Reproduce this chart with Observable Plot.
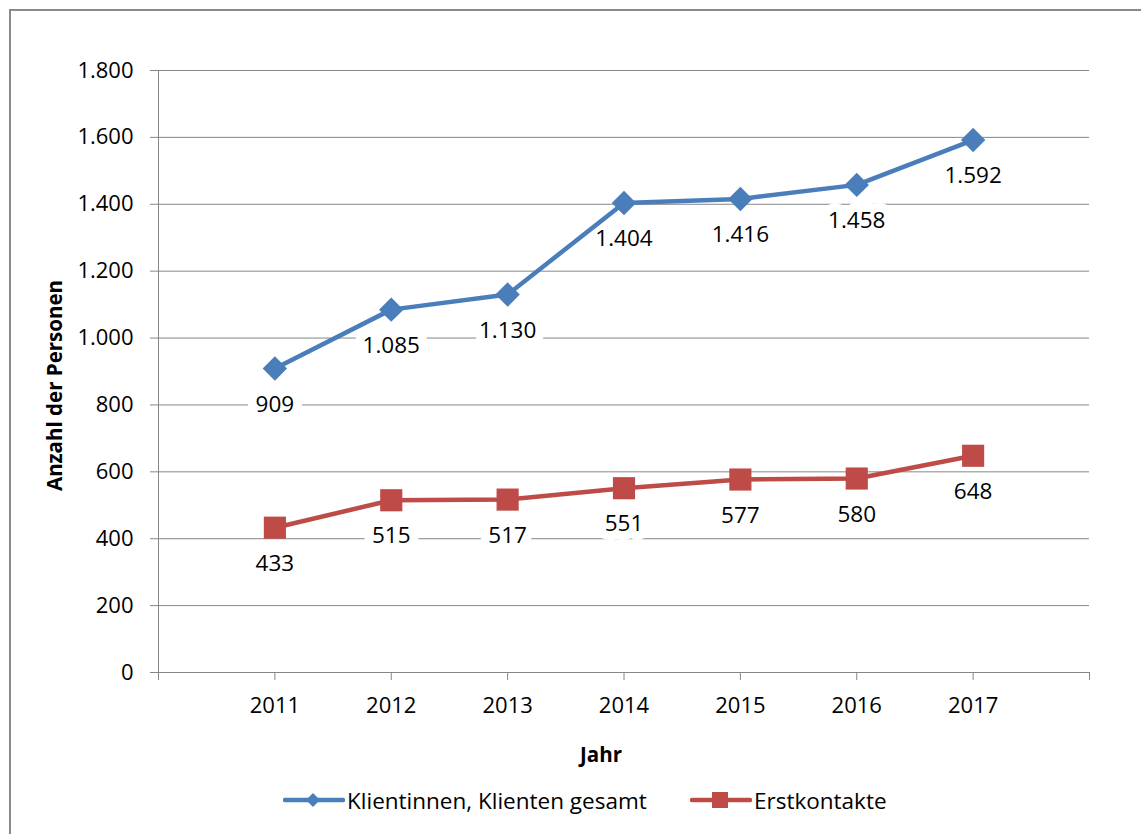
<!DOCTYPE html>
<html>
<head>
<meta charset="utf-8">
<script src="https://cdn.jsdelivr.net/npm/d3@7"></script>
<script src="https://cdn.jsdelivr.net/npm/@observablehq/plot@0.6"></script>
<style>
  html, body { margin: 0; padding: 0; background: #fff; }
  body { width: 1141px; height: 834px; position: relative; overflow: hidden; font-family: "Open Sans", sans-serif; }
  #frame { position: absolute; left: 9px; top: 9px; width: 1150px; height: 850px; border: 2px solid #8a8a8a; box-sizing: border-box; }
  #chart { position: absolute; left: 0; top: 0; }
  #legend { position: absolute; top: 785px; left: 0; width: 1141px; height: 30px; font-size: 22.5px; color: #000; }
  .item { position: absolute; top: 0; display: flex; align-items: center; height: 30px; }
  .item svg { display: block; }
</style>
</head>
<body>
<div id="frame"></div>
<div id="chart"></div>
<div id="legend"></div>
<script>
const years = [2011, 2012, 2013, 2014, 2015, 2016, 2017];
const klienten = [909, 1085, 1130, 1404, 1416, 1458, 1592];
const erstkontakte = [433, 515, 517, 551, 577, 580, 648];
const seriesNames = ["Klientinnen, Klienten gesamt", "Erstkontakte"];
const seriesColors = ["#4A7EBB", "#BE4B48"];
const yTicks = [0, 200, 400, 600, 800, 1000, 1200, 1400, 1600, 1800];
const xTickLabels = ["2011", "2012", "2013", "2014", "2015", "2016", "2017"];
const xBoundaries = [2010, 2011, 2012, 2013, 2014, 2015, 2016, 2017, 2018];
const yTitle = "Anzahl der Personen";
const xTitle = "Jahr";

const de = d3.formatLocale({decimal: ",", thousands: ".", grouping: [3], currency: ["", "€"]});
const fmt = de.format(",d");

const data = [];
years.forEach((y, i) => data.push({year: y, value: klienten[i], series: seriesNames[0]}));
years.forEach((y, i) => data.push({year: y, value: erstkontakte[i], series: seriesNames[1]}));
const dK = data.filter(d => d.series === seriesNames[0]);
const dE = data.filter(d => d.series === seriesNames[1]);

const grid = "#868686";
const font = "Open Sans";

const plot = Plot.plot({
  width: 1141,
  height: 780,
  marginLeft: 158,
  marginRight: 52,
  marginTop: 70,
  marginBottom: 108,
  style: {fontFamily: font, background: "transparent", overflow: "visible"},
  x: {type: "linear", domain: [2010, 2018]},
  y: {domain: [0, 1800]},
  marks: [
    Plot.gridY(yTicks, {stroke: grid, strokeOpacity: 1, strokeWidth: 1}),
    Plot.ruleX([2010], {stroke: grid, strokeWidth: 1}),
    Plot.axisY(yTicks, {tickFormat: fmt, tickSize: 8, tickPadding: 17, stroke: grid, fill: "#000", fontSize: 22, label: null}),
    Plot.axisX(xBoundaries, {tickSize: 8, tickFormat: () => "", stroke: grid, label: null}),
    Plot.axisX(years, {tickSize: 0, tickPadding: 25, tickFormat: (d, i) => xTickLabels[i], fill: "#000", fontSize: 22, label: null}),
    Plot.text([yTitle], {frameAnchor: "left", textAnchor: "middle", lineAnchor: "middle", dx: -103, dy: 14, rotate: -90, fontSize: 20.5, fontWeight: "bold", fill: "#000"}),
    Plot.text([xTitle], {frameAnchor: "bottom", textAnchor: "middle", lineAnchor: "middle", dx: -23, dy: 83, fontSize: 20.5, fontWeight: "bold", fill: "#000"}),
    Plot.text(data, {x: "year", y: "value", text: d => fmt(d.value), dy: 36, fontSize: 22.5, fill: "#000", stroke: "white", strokeWidth: 18}),
    Plot.line(dK, {x: "year", y: "value", stroke: seriesColors[0], strokeWidth: 4.5}),
    Plot.line(dE, {x: "year", y: "value", stroke: seriesColors[1], strokeWidth: 4.5}),
    Plot.dot(dK, {x: "year", y: "value", symbol: "diamond2", r: 11, fill: seriesColors[0], stroke: null}),
    Plot.dot(dE, {x: "year", y: "value", symbol: "square", r: 12.5, fill: seriesColors[1], stroke: null})
  ]
});
document.getElementById("chart").appendChild(plot);

// Legend
const legend = d3.select("#legend");
const lefts = [283, 690];
const symbols = ["diamond", "square"];
seriesNames.forEach((name, i) => {
  const item = legend.append("div").attr("class", "item").style("left", lefts[i] + "px");
  const svg = item.append("svg").attr("width", 62).attr("height", 30);
  svg.append("line").attr("x1", 2).attr("x2", 60).attr("y1", 15).attr("y2", 15)
    .attr("stroke", seriesColors[i]).attr("stroke-width", 4.5).attr("stroke-linecap", "round");
  if (symbols[i] === "diamond") {
    svg.append("path").attr("d", d3.symbol(d3.symbolDiamond2, 125)()).attr("transform", "translate(30,15)").attr("fill", seriesColors[i]);
  } else {
    svg.append("rect").attr("x", 22).attr("y", 7).attr("width", 16).attr("height", 16).attr("fill", seriesColors[i]);
  }
  item.append("span").style("margin-left", "2px").text(name);
});
</script>
</body>
</html>
